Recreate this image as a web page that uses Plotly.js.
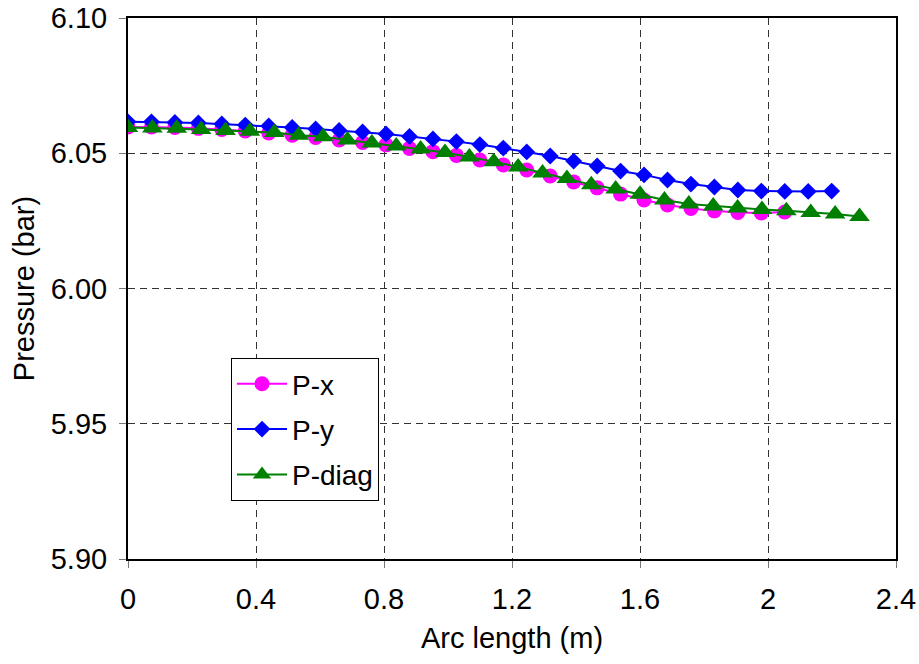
<!DOCTYPE html>
<html>
<head>
<meta charset="utf-8">
<script src="https://cdn.plot.ly/plotly-3.0.1.min.js"></script>
<style>html,body{margin:0;padding:0;background:#fff;}#chart{width:919px;height:664px;}</style>
</head>
<body>
<div id="chart"></div>
<script>
// Arc length positions (m)
const xStepXY = 0.0733;   // spacing of P-x / P-y samples
const xStepDiag = 0.0762; // spacing of P-diag samples

const pxValues = [6.0597, 6.0597, 6.0595, 6.0592, 6.0588, 6.0582, 6.0575, 6.0567, 6.0558, 6.0549,
  6.0540, 6.0531, 6.0518, 6.0506, 6.0492, 6.0475, 6.0457, 6.0438, 6.0416, 6.0394,
  6.0372, 6.0349, 6.0327, 6.0309, 6.0296, 6.0287, 6.0281, 6.0279, 6.0283];

const pyValues = [6.0616, 6.0616, 6.0614, 6.0612, 6.0608, 6.0604, 6.0601, 6.0595, 6.0590, 6.0584,
  6.0579, 6.0571, 6.0562, 6.0553, 6.0543, 6.0532, 6.0519, 6.0505, 6.0490, 6.0471,
  6.0453, 6.0434, 6.0420, 6.0401, 6.0386, 6.0375, 6.0364, 6.0360, 6.0359, 6.0359, 6.0360];

const pdiagValues = [6.0595, 6.0593, 6.0592, 6.0588, 6.0584, 6.0581, 6.0577, 6.0567, 6.0561, 6.0549,
  6.0538, 6.0527, 6.0516, 6.0503, 6.0486, 6.0469, 6.0449, 6.0427, 6.0407, 6.0384,
  6.0368, 6.0348, 6.0327, 6.0312, 6.0305, 6.0298, 6.0292, 6.0287, 6.0281, 6.0275, 6.0266];

const seriesNames = ["P-x", "P-y", "P-diag"];
const xTickVals = [0, 0.4, 0.8, 1.2, 1.6, 2.0, 2.4];
const xTickText = ["0", "0.4", "0.8", "1.2", "1.6", "2", "2.4"];
const yTickVals = [5.90, 5.95, 6.00, 6.05, 6.10];
const yTickText = ["5.90", "5.95", "6.00", "6.05", "6.10"];

const pxArc = pxValues.map((v, i) => +(i * xStepXY).toFixed(4));
const pyArc = pyValues.map((v, i) => +(i * xStepXY).toFixed(4));
const pdArc = pdiagValues.map((v, i) => +(i * xStepDiag).toFixed(4));

const font = "Liberation Sans, Arial, sans-serif";
const fs = 29;

const traces = [
  {x: pxArc, y: pxValues, name: seriesNames[0], legendgroup: "a", mode: "lines+markers",
   line: {color: "#FF00FF", width: 2}, marker: {symbol: "circle", size: 15, color: "#FF00FF"}},
  {x: pyArc, y: pyValues, name: seriesNames[1], legendgroup: "b", mode: "lines+markers",
   line: {color: "#0000FF", width: 2}, marker: {symbol: "diamond", size: 13, color: "#0000FF"}},
  {x: pdArc, y: pdiagValues, name: seriesNames[2], legendgroup: "c", mode: "lines+markers",
   line: {color: "#008000", width: 2}, marker: {symbol: "triangle-up", size: 18, color: "#008000"}}
];

const plotL = 128, plotR = 896, plotT = 18, plotB = 559;

const layout = {
  width: 919, height: 664,
  margin: {l: plotL, r: 919 - plotR, t: plotT, b: 664 - plotB, pad: 0},
  paper_bgcolor: "#fff", plot_bgcolor: "#fff",
  font: {family: font, size: fs, color: "#000"},
  showlegend: true,
  legend: {
    x: (231 - plotL) / (plotR - plotL), y: 1 - (358 - plotT) / (plotB - plotT),
    xanchor: "left", yanchor: "top", xref: "paper", yref: "paper",
    bgcolor: "#fff", bordercolor: "#000", borderwidth: 1,
    font: {family: font, size: 28, color: "#000"},
    tracegroupgap: 6, itemwidth: 50
  },
  xaxis: {
    range: [0, 2.4], tickvals: xTickVals, ticktext: xTickText,
    showgrid: true, gridcolor: "#333", gridwidth: 1, griddash: "7px,5px",
    zeroline: false, showline: true, linecolor: "#000", linewidth: 2, mirror: true,
    ticks: "outside", ticklen: 7, tickcolor: "#777", tickwidth: 1, ticklabelstandoff: 6,
    tickfont: {family: font, size: fs, color: "#000"},
    title: {text: "Arc length (m)", font: {family: font, size: fs, color: "#000"}, standoff: 14}
  },
  yaxis: {
    range: [5.90, 6.10], tickvals: yTickVals, ticktext: yTickText,
    showgrid: true, gridcolor: "#333", gridwidth: 1, griddash: "7px,5px",
    zeroline: false, showline: true, linecolor: "#000", linewidth: 2, mirror: true,
    ticks: "outside", ticklen: 7, tickcolor: "#777", tickwidth: 1, ticklabelstandoff: 6,
    tickfont: {family: font, size: fs, color: "#000"},
    title: {text: "Pressure (bar)", font: {family: font, size: fs, color: "#000"}, standoff: 8}
  }
};

Plotly.newPlot("chart", traces, layout, {displayModeBar: false, staticPlot: true});
</script>
</body>
</html>
